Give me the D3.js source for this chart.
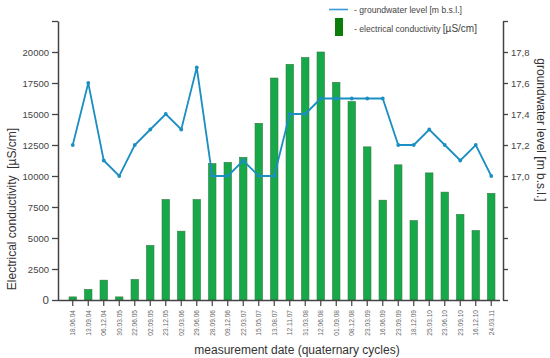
<!DOCTYPE html>
<html>
<head>
<meta charset="utf-8">
<script src="https://cdn.jsdelivr.net/npm/d3@7"></script>
<style>
  body { margin: 0; background: #fff; }
  text { font-family: "Liberation Sans", Arial, sans-serif; }
</style>
</head>
<body>
<svg id="container" width="550" height="358"></svg>
<script>
// measurement dates (quarterly cycles)
var dates = ["18.06.04", "13.09.04", "06.12.04", "30.03.05", "22.06.05", "02.09.05", "23.12.05",
    "02.03.06", "29.06.06", "28.09.06", "09.12.06", "22.03.07", "15.05.07", "13.08.07", "12.11.07",
    "31.03.08", "12.06.08", "01.09.08", "08.12.08", "23.03.09", "16.06.09", "23.09.09", "18.12.09",
    "25.03.10", "23.06.10", "23.09.10", "16.12.10", "24.03.11"];

// electrical conductivity [µS/cm]
var conductivity = [250, 850, 1600, 250, 1650, 4400, 8100, 5550, 8100, 11000, 11100, 11500, 14250,
    17900, 19000, 19550, 20000, 17550, 16000, 12350, 8050, 10900, 6400, 10250, 8700, 6900, 5600, 8600];

// groundwater level [m b.s.l.]
var groundwater = [17.2, 17.6, 17.1, 17.0, 17.2, 17.3, 17.4, 17.3, 17.7, 17.0, 17.0, 17.1, 17.0,
    17.0, 17.4, 17.4, 17.5, 17.5, 17.5, 17.5, 17.5, 17.2, 17.2, 17.3, 17.2, 17.1, 17.2, 17.0];

var leftTicks = [0, 2500, 5000, 7500, 10000, 12500, 15000, 17500, 20000, 22500];
var rightTicks = [16.2, 16.4, 16.6, 16.8, 17.0, 17.2, 17.4, 17.6, 17.8, 18.0];

const svg = d3.select('#container');
const axisColor = "#444";

var x = d3.scaleBand().domain(dates).range([65, 499]).paddingInner(0.52).paddingOuter(0.26);
var yLeft = d3.scaleLinear().domain([0, 22500]).range([300, 21]);
var yRight = d3.scaleLinear().domain([16.2, 18.0]).range([300, 21]);

// bars
svg.append("g").selectAll("rect").data(conductivity).join("rect")
    .attr("x", (d, i) => x(dates[i]))
    .attr("y", d => yLeft(d))
    .attr("width", x.bandwidth())
    .attr("height", d => yLeft(0) - yLeft(d))
    .attr("fill", "#17a84a")
    .attr("stroke", "#2e7a3c")
    .attr("stroke-width", 0.6);

// groundwater line
var line = d3.line()
    .x((d, i) => x(dates[i]) + x.bandwidth() / 2)
    .y(d => yRight(d));
svg.append("path").datum(groundwater)
    .attr("d", line)
    .attr("fill", "none")
    .attr("stroke", "#1b8fc2")
    .attr("stroke-width", 1.8);
svg.append("g").selectAll("circle").data(groundwater).join("circle")
    .attr("cx", (d, i) => x(dates[i]) + x.bandwidth() / 2)
    .attr("cy", d => yRight(d))
    .attr("r", 1.9)
    .attr("fill", "#1b8fc2");

// left axis
var leftAxis = svg.append("g").attr("transform", "translate(58,0)")
    .call(d3.axisLeft(yLeft).tickValues(leftTicks).tickSize(6).tickSizeOuter(0)
        .tickFormat(d => d == 22500 ? "" : d));
leftAxis.select(".domain").attr("stroke", axisColor).attr("stroke-width", 1.5);
leftAxis.selectAll(".tick line").attr("stroke", axisColor).attr("stroke-width", 1.3);
leftAxis.selectAll(".tick text").attr("fill", "#444").attr("font-size", 9.5)
    .attr("font-family", "Liberation Sans, Arial, sans-serif").attr("x", -9);
leftAxis.selectAll(".tick").filter(d => d == 0).select("text").attr("font-size", 11.5);

// right axis
var rightAxis = svg.append("g").attr("transform", "translate(503,0)")
    .call(d3.axisRight(yRight).tickValues(rightTicks).tickSize(5).tickSizeOuter(0)
        .tickFormat(d => (d >= 16.99 && d <= 17.81) ? d3.format(".1f")(d).replace(".", ",") : ""));
rightAxis.select(".domain").attr("stroke", axisColor).attr("stroke-width", 1.5);
rightAxis.selectAll(".tick line").attr("stroke", axisColor).attr("stroke-width", 1.3);
rightAxis.selectAll(".tick text").attr("fill", "#444").attr("font-size", 9.5)
    .attr("font-family", "Liberation Sans, Arial, sans-serif").attr("x", 8);

// bottom axis
var bottomAxis = svg.append("g").attr("transform", "translate(0,300)")
    .call(d3.axisBottom(x).tickSize(6).tickSizeOuter(0));
bottomAxis.select(".domain").attr("stroke", axisColor).attr("stroke-width", 1.5)
    .attr("d", "M58,0.5H500");
bottomAxis.selectAll(".tick line").attr("stroke", axisColor).attr("stroke-width", 1.2);
bottomAxis.selectAll(".tick text")
    .attr("fill", "#666").attr("font-size", 6.6)
    .attr("font-family", "Liberation Sans, Arial, sans-serif")
    .attr("transform", "rotate(-90)")
    .attr("text-anchor", "end")
    .attr("x", -10).attr("y", 0).attr("dy", "0.35em");

// axis titles
svg.append("text").attr("x", 297).attr("y", 354).attr("text-anchor", "middle")
    .attr("font-size", 12).attr("fill", "#333").text("measurement date (quaternary cycles)");
svg.append("text").attr("transform", "translate(16,209) rotate(-90)").attr("text-anchor", "middle")
    .attr("font-size", 12).attr("fill", "#333").text("Electrical conductivity\u00a0\u00a0[µS/cm]");
svg.append("text").attr("transform", "translate(537,130) rotate(90)").attr("text-anchor", "middle")
    .attr("font-size", 12).attr("fill", "#333").text("groundwater level [m b.s.l.]");

// legend
svg.append("line").attr("x1", 329).attr("x2", 348).attr("y1", 9.5).attr("y2", 9.5)
    .attr("stroke", "#3a9ad8").attr("stroke-width", 1.6);
svg.append("text").attr("x", 354).attr("y", 12.5).attr("font-size", 8.6).attr("fill", "#444")
    .text("- groundwater level [m b.s.l.]");
svg.append("rect").attr("x", 335).attr("y", 18).attr("width", 8).attr("height", 18).attr("fill", "#0a7d0a");
var legendText = svg.append("text").attr("x", 354).attr("y", 31.5).attr("font-size", 8.6).attr("fill", "#444");
legendText.append("tspan").text("- electrical conductivity ");
legendText.append("tspan").attr("font-size", 10).text("[µS/cm]");
</script>
</body>
</html>
